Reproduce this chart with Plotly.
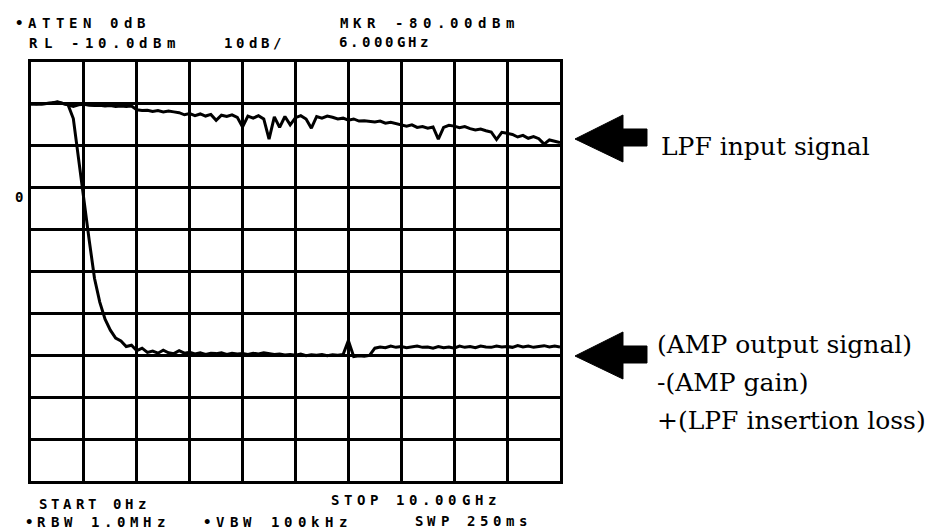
import plotly.graph_objects as go

# ---- data ----
freq_ghz = [round(i * 0.1, 1) for i in range(101)]

lpf_input_dbm = [
    -20.0, -20.1, -20.0, -19.9, -19.8, -19.5, -19.9, -20.3, -20.6, -20.2,
    -20.1, -20.3, -20.4, -20.3, -20.5, -20.4, -20.6, -20.5, -20.6, -20.5,
    -21.4, -21.6, -21.5, -21.8, -21.6, -21.9, -21.7, -21.9, -22.1, -22.6,
    -22.3, -22.8, -22.4, -22.9, -22.5, -23.9, -22.7, -23.0, -22.6, -23.2,
    -25.5, -22.9, -23.4, -22.8, -23.6, -28.4, -23.1, -25.6, -23.0, -25.0,
    -23.3, -22.8, -23.6, -25.8, -23.0, -23.4, -22.9, -23.2, -23.6, -23.4,
    -23.9, -23.6, -24.1, -24.0, -24.2, -24.3, -24.1, -24.6, -24.4, -24.7,
    -24.9, -25.3, -25.0, -25.6, -25.4, -25.8, -25.5, -28.4, -25.6, -25.1,
    -25.3, -25.7, -25.4, -25.9, -26.2, -26.0, -26.4, -26.7, -28.5, -26.8,
    -27.0, -27.3, -27.9, -27.5, -28.2, -27.8, -28.3, -29.6, -28.6, -28.9,
    -29.2,
]

amp_output_dbm = [
    -20.0, -19.9, -20.0, -19.9, -19.8, -19.6, -19.9, -20.2, -23.5, -33.5,
    -43.0, -52.5, -61.6, -67.3, -71.4, -74.0, -75.9, -76.6, -77.9, -77.6,
    -78.9, -78.3, -79.3, -79.0, -79.5, -78.8, -79.4, -79.6, -78.9, -79.5,
    -79.3, -79.7, -79.4, -79.8, -79.5, -79.6, -79.4, -79.8, -79.5, -79.7,
    -79.6, -79.8, -79.5, -79.7, -79.4, -79.6, -79.8, -79.7, -79.9, -79.8,
    -80.0, -79.7, -80.1, -79.9, -80.0, -79.8, -80.1, -79.9, -80.0, -79.8,
    -76.5, -80.3, -80.1, -80.2, -80.0, -78.3, -78.0, -78.2, -77.8, -78.1,
    -77.9, -78.2, -78.0, -77.8, -78.1, -78.0, -78.3, -77.9, -78.2, -78.0,
    -78.3, -77.8, -78.1, -77.9, -78.2, -77.8, -78.0, -78.1, -77.8, -78.0,
    -77.9, -78.1, -77.7, -78.0, -77.8, -78.1, -77.9, -77.7, -78.0, -77.8,
    -78.0,
]

screen_texts = [
    "•ATTEN 0dB", "RL -10.0dBm", "10dB/", "MKR -80.00dBm", "6.000GHz",
    "START 0Hz", "STOP 10.00GHz", "•RBW 1.0MHz", "•VBW 100kHz", "SWP 250ms",
]
label_input = "LPF input signal"
label_output = ["(AMP output signal)", "-(AMP gain)", "+(LPF insertion loss)"]

# ---- layout geometry (page pixels; the page body adds an 8px offset) ----
OFF = 8
W, H = 936 - OFF, 531 - OFF
L, T = 31 - OFF, 62 - OFF
PLOT_R, PLOT_B = 560 - OFF, 481 - OFF
R, B = W - PLOT_R, H - PLOT_B
PW, PH = PLOT_R - L, PLOT_B - T


def px(xp):
    return (xp - OFF - L) / PW


def py(yp):
    return (PLOT_B - (yp - OFF)) / PH


fig = go.Figure()
fig.add_trace(go.Scatter(x=freq_ghz, y=lpf_input_dbm, mode="lines",
                         line=dict(color="black", width=3), showlegend=False))
fig.add_trace(go.Scatter(x=freq_ghz, y=amp_output_dbm, mode="lines",
                         line=dict(color="black", width=3), showlegend=False))

axis_common = dict(showgrid=True, gridcolor="black", gridwidth=3,
                   showline=True, linecolor="black", linewidth=3, mirror=True,
                   zeroline=False, showticklabels=False, ticks="")
fig.update_xaxes(range=[0, 10], dtick=1, tick0=0, **axis_common)
fig.update_yaxes(range=[-110, -10], dtick=10, tick0=-10, **axis_common)

annotations = []
mono = dict(family="DejaVu Sans Mono", size=14, color="black", weight=700)
placements = [  # (x start px, y centre px, pitch px)
    (12, 23, 13.6), (27, 43, 13.7), (222, 43, 12.2), (337, 23, 13.8), (337, 42, 11.6),
    (37, 504, 12.3), (328, 500, 13.1), (22, 522, 13.2), (200, 522, 13.6), (412, 521, 13.0),
]
for text, (x0, yc, pitch) in zip(screen_texts, placements):
    for i, ch in enumerate(text):
        if ch == " ":
            continue
        annotations.append(dict(text=ch, x=px(x0 + pitch * (i + 0.5)), y=py(yc),
                                xref="paper", yref="paper", showarrow=False,
                                xanchor="center", yanchor="middle", font=mono))
annotations.append(dict(text="0", x=px(19), y=py(197), xref="paper", yref="paper",
                        showarrow=False, xanchor="center", yanchor="middle", font=mono))

serif = dict(family="DejaVu Serif", size=25, color="black")
annotations.append(dict(text=label_input, x=px(659), y=py(146), xref="paper", yref="paper",
                        showarrow=False, xanchor="left", yanchor="middle", font=serif))
for txt, yc in zip(label_output, [344, 382, 420]):
    annotations.append(dict(text=txt, x=px(655), y=py(yc), xref="paper", yref="paper",
                            showarrow=False, xanchor="left", yanchor="middle", font=serif))


def arrow_path(tip_y):
    pts = [(575, tip_y), (623, tip_y - 24), (623, tip_y - 10), (647, tip_y - 10),
           (647, tip_y + 7), (623, tip_y + 7), (623, tip_y + 23)]
    return "M " + " L ".join(f"{px(a):.5f},{py(b):.5f}" for a, b in pts) + " Z"


shapes = [dict(type="path", path=arrow_path(ty), xref="paper", yref="paper",
               fillcolor="black", line=dict(color="black", width=1))
          for ty in (139, 356)]

fig.update_layout(width=W, height=H, margin=dict(l=L, r=R, t=T, b=B),
                  plot_bgcolor="white", paper_bgcolor="white",
                  annotations=annotations, shapes=shapes)

fig.write_html("out.html")
